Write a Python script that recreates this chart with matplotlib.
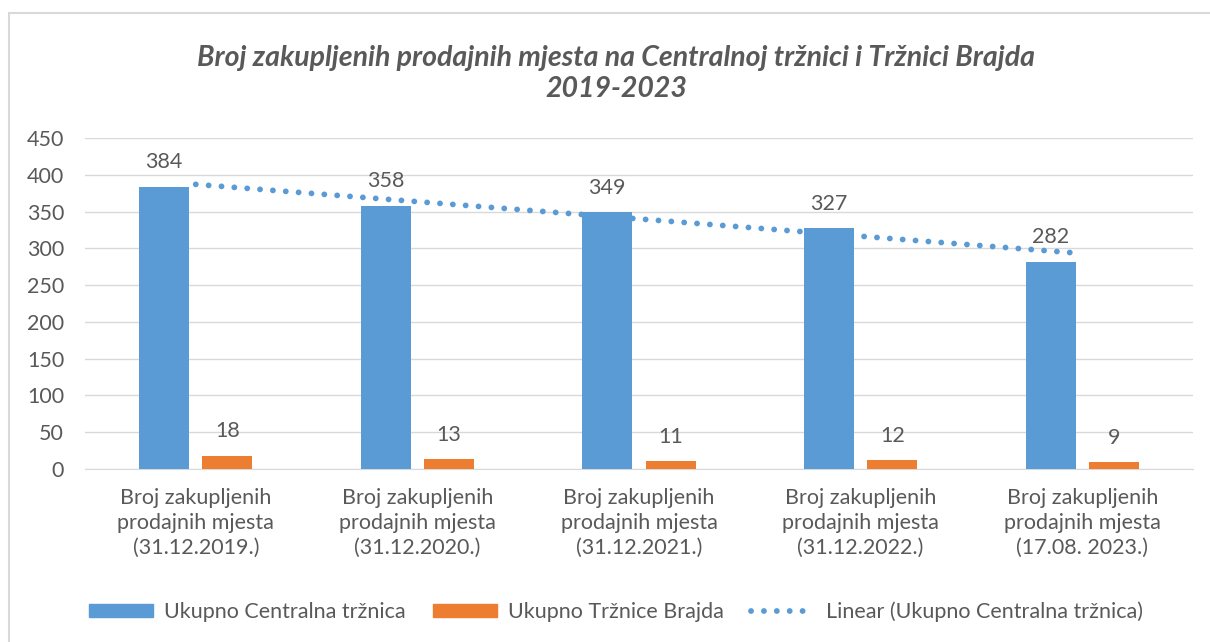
import numpy as np
import matplotlib.pyplot as plt
from matplotlib.patches import Patch, Rectangle
from matplotlib.lines import Line2D

plt.rcParams['font.family'] = ['Lato', 'DejaVu Sans']

# Data
categories = [
    'Broj zakupljenih\nprodajnih mjesta\n(31.12.2019.)',
    'Broj zakupljenih\nprodajnih mjesta\n(31.12.2020.)',
    'Broj zakupljenih\nprodajnih mjesta\n(31.12.2021.)',
    'Broj zakupljenih\nprodajnih mjesta\n(31.12.2022.)',
    'Broj zakupljenih\nprodajnih mjesta\n(17.08. 2023.)',
]
centralna = [384, 358, 349, 327, 282]
brajda = [18, 13, 11, 12, 9]
yticks = [0, 50, 100, 150, 200, 250, 300, 350, 400, 450]

blue = '#5B9BD5'
orange = '#ED7D31'
text_col = '#595959'
grid_col = '#D9D9D9'

x = np.arange(len(categories))
w = 0.226
off = 0.143

fig = plt.figure(figsize=(12.1, 6.42), dpi=100)
ax = fig.add_axes([0.0702, 0.2695, 0.9158, 0.5155])

b1 = ax.bar(x - off, centralna, w, color=blue, zorder=3)
b2 = ax.bar(x + off, brajda, w, color=orange, zorder=3)

# linear trendline for Centralna
k, n = np.polyfit(x, centralna, 1)
ax.plot(x, k * x + n, color=blue, lw=4.2, dashes=(0.01, 2.2),
        dash_capstyle='round', zorder=4)

for bars, vals in ((b1, centralna), (b2, brajda)):
    for b, v in zip(bars, vals):
        ax.annotate(str(v), (b.get_x() + b.get_width() / 2, v),
                    xytext=(0, 17.5), textcoords='offset points',
                    ha='center', va='center', fontsize=15.5, color=text_col)

ax.set_xlim(-0.5, len(categories) - 0.5)
ax.set_ylim(0, 450)
ax.set_yticks(yticks)
ax.set_xticks(x)
ax.set_xticklabels(categories, fontsize=15.5, color=text_col, linespacing=1.3)
ax.tick_params(axis='y', length=0, pad=15, labelsize=15.5, labelcolor=text_col)
ax.tick_params(axis='x', length=0, pad=14)
ax.grid(axis='y', color=grid_col, lw=1, zorder=0)
for s in ['top', 'right', 'left']:
    ax.spines[s].set_visible(False)
ax.spines['bottom'].set_color(grid_col)
ax.spines['bottom'].set_zorder(2)

fig.text(0.509, 0.886, 'Broj zakupljenih prodajnih mjesta na Centralnoj tržnici i Tržnici Brajda\n2019-2023',
         ha='center', va='center', fontsize=20.5, fontweight='bold', fontstyle='italic',
         color=text_col, linespacing=1.25)

handles = [
    Patch(color=blue, label='Ukupno Centralna tržnica'),
    Patch(color=orange, label='Ukupno Tržnice Brajda'),
    Line2D([0], [0], color=blue, lw=4.2, dashes=(0.01, 2.2), dash_capstyle='round',
           label='Linear (Ukupno Centralna tržnica)'),
]
fig.legend(handles=handles, loc='center', bbox_to_anchor=(0.509, 0.047), ncol=3,
           frameon=False, fontsize=15.5, labelcolor=text_col, handlelength=3.0,
           handleheight=0.6, columnspacing=1.25, handletextpad=0.5)

# chart border
fig.patches.append(Rectangle((9 / 1210, -0.1), 1.2, 1 - 13 / 642 + 0.1, transform=fig.transFigure,
                             fill=False, edgecolor='#D9D9D9', lw=1.5))

fig.savefig('out.png', dpi=100)
